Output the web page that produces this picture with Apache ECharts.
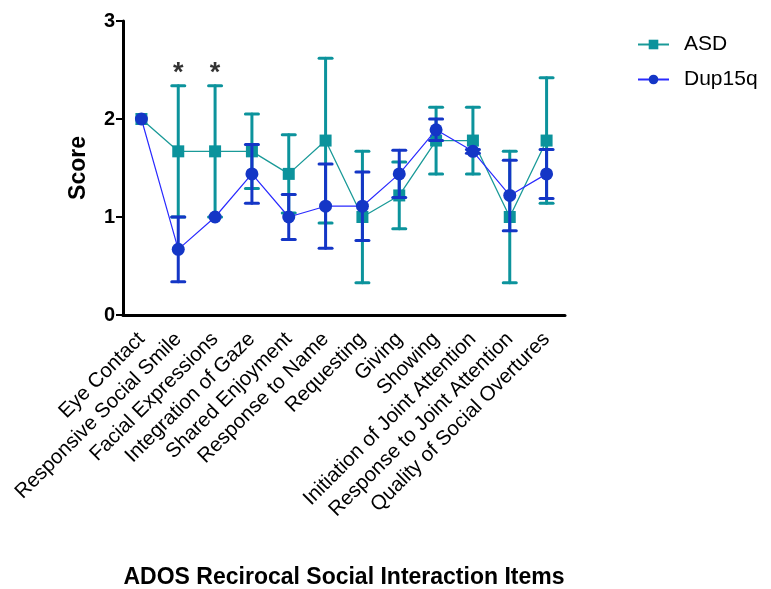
<!DOCTYPE html>
<html><head><meta charset="utf-8">
<script src="https://cdn.jsdelivr.net/npm/echarts@6/dist/echarts.min.js"></script>
<style>html,body{margin:0;padding:0;background:#fff}#c{width:771px;height:589px}</style>
</head><body><div id="c"></div>
<script>
const categories = ["Eye Contact","Responsive Social Smile","Facial Expressions","Integration of Gaze","Shared Enjoyment","Response to Name","Requesting","Giving","Showing","Initiation of Joint Attention","Response to Joint Attention","Quality of Social Overtures"];
const asdMean = [2, 1.67, 1.67, 1.67, 1.44, 1.78, 1.0, 1.22, 1.78, 1.78, 1.0, 1.78];
const asdErr  = [0, 0.67, 0.67, 0.38, 0.40, 0.84, 0.67, 0.34, 0.34, 0.34, 0.67, 0.64];
const dupMean = [2, 0.67, 1.0, 1.44, 1.0, 1.11, 1.11, 1.44, 1.89, 1.67, 1.22, 1.44];
const dupErr  = [0, 0.33, 0, 0.30, 0.23, 0.43, 0.35, 0.24, 0.11, 0.02, 0.36, 0.25];
const sigIdx = [1, 2];
const sigY = 2.46;
const yTicks = [0, 1, 2, 3];

const TEAL = '#0c939c', TEAL_LINE = '#1a9a98';
const BLUE = '#1436c6', BLUE_LINE = '#2a2aff';
const FONT = 'Liberation Sans, Arial, sans-serif';

function errSeries(mean, err, color, z) {
  return {
    type: 'custom', z: z, silent: true,
    data: mean.map((m, i) => [i, m - err[i], m + err[i]]),
    renderItem: function (params, api) {
      const x = api.value(0);
      if (api.value(2) - api.value(1) <= 0) return { type: 'group', children: [] };
      const lo = api.coord([x, api.value(1)]);
      const hi = api.coord([x, api.value(2)]);
      const w = 6.5;
      const st = { stroke: color, lineWidth: 3, lineCap: 'round' };
      return { type: 'group', children: [
        { type: 'line', shape: { x1: lo[0], y1: lo[1], x2: hi[0], y2: hi[1] }, style: st },
        { type: 'line', shape: { x1: lo[0]-w, y1: lo[1], x2: lo[0]+w, y2: lo[1] }, style: st },
        { type: 'line', shape: { x1: hi[0]-w, y1: hi[1], x2: hi[0]+w, y2: hi[1] }, style: st }
      ]};
    }
  };
}

const chart = echarts.init(document.getElementById('c'));
chart.setOption({
  animation: false,
  textStyle: { fontFamily: FONT },
  grid: { left: 123, right: 206, top: 21, bottom: 274, containLabel: false, outerBoundsMode: 'none' },
  legend: {
    orient: 'vertical', left: 632, top: 29, itemGap: 14, itemWidth: 31, itemHeight: 12,
    textStyle: { fontSize: 21, color: '#000', fontFamily: FONT, padding: [0,0,0,10] },
    data: ['ASD', 'Dup15q']
  },
  xAxis: {
    type: 'category', data: categories, boundaryGap: true,
    axisLine: { lineStyle: { color: '#000', width: 3 } },
    axisTick: { alignWithLabel: true, length: 8, lineStyle: { color: '#000', width: 3 } },
    axisLabel: { rotate: 45, fontSize: 20.5, color: '#000', margin: 21, interval: 0, fontFamily: FONT },
    name: 'ADOS Recirocal Social Interaction Items', nameLocation: 'middle', nameGap: 251,
    nameTextStyle: { fontSize: 23, fontWeight: 'bold', color: '#000', fontFamily: FONT }
  },
  yAxis: {
    type: 'value', min: 0, max: 3, interval: 1,
    axisLine: { show: true, lineStyle: { color: '#000', width: 3 } },
    axisTick: { show: true, length: 7, lineStyle: { color: '#000', width: 2 } },
    splitLine: { show: false },
    axisLabel: { fontSize: 20, fontWeight: 'bold', color: '#000', margin: 8, fontFamily: FONT,
      formatter: v => yTicks.includes(v) ? String(v) : '' },
    name: 'Score', nameLocation: 'middle', nameGap: 33,
    nameTextStyle: { fontSize: 23, fontWeight: 'bold', color: '#000', fontFamily: FONT }
  },
  series: [
    errSeries(asdMean, asdErr, TEAL, 2),
    { name: 'ASD', type: 'line', z: 3, data: asdMean, symbol: 'rect', symbolSize: 12,
      lineStyle: { color: TEAL_LINE, width: 1.3 }, itemStyle: { color: TEAL } },
    errSeries(dupMean, dupErr, BLUE, 4),
    { name: 'Dup15q', type: 'line', z: 5, data: dupMean, symbol: 'circle', symbolSize: 13,
      lineStyle: { color: BLUE_LINE, width: 1.2 }, itemStyle: { color: BLUE } },
    { type: 'scatter', z: 6, silent: true, symbolSize: 1, itemStyle: { color: 'rgba(0,0,0,0)' },
      data: sigIdx.map(i => [i, sigY]),
      label: { show: true, position: 'inside', formatter: '*', fontSize: 27, fontWeight: 'bold', color: '#000', fontFamily: FONT } }
  ]
});
</script></body></html>
